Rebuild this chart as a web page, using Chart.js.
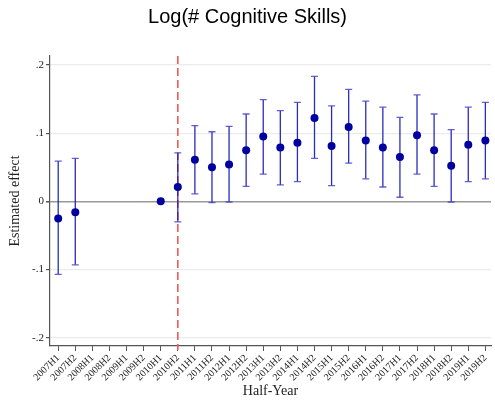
<!DOCTYPE html>
<html>
<head>
<meta charset="utf-8">
<script src="https://cdn.jsdelivr.net/npm/chart.js@4.4.0/dist/chart.umd.min.js"></script>
<style>
  html, body { margin: 0; padding: 0; background: #fff; }
  #wrap { width: 495px; height: 400px; }
</style>
</head>
<body>
<div id="wrap"><canvas id="chart"></canvas></div>
<script>
const periods = [
  "2007H1", "2007H2", "2008H1", "2008H2", "2009H1", "2009H2", "2010H1", "2010H2",
  "2011H1", "2011H2", "2012H1", "2012H2", "2013H1", "2013H2", "2014H1", "2014H2",
  "2015H1", "2015H2", "2016H1", "2016H2", "2017H1", "2017H2", "2018H1", "2018H2",
  "2019H1", "2019H2"
];
const estimates = [-0.025, -0.016, null, null, null, null, 0, 0.021, 0.061, 0.050, 0.054, 0.075, 0.095,
  0.079, 0.086, 0.122, 0.081, 0.109, 0.089, 0.079, 0.065, 0.097, 0.075, 0.052, 0.083, 0.089];
const ciLow = [-0.107, -0.093, null, null, null, null, null, -0.030, 0.011, -0.002, -0.001, 0.022, 0.040,
  0.024, 0.029, 0.063, 0.023, 0.056, 0.033, 0.021, 0.006, 0.040, 0.022, -0.001, 0.029, 0.033];
const ciHigh = [0.059, 0.063, null, null, null, null, null, 0.071, 0.111, 0.102, 0.110, 0.128, 0.149,
  0.133, 0.145, 0.183, 0.140, 0.164, 0.147, 0.138, 0.123, 0.156, 0.128, 0.105, 0.138, 0.145];
const yTicks = [-0.2, -0.1, 0, 0.1, 0.2];
const eventPeriod = "2010H2";

const serif = "'Liberation Serif', 'DejaVu Serif', serif";

// vertical event line + confidence intervals, drawn through the chart scales
const errorBars = {
  id: "errorBars",
  beforeDatasetsDraw(chart) {
    const { ctx, chartArea, scales: { x, y } } = chart;
    ctx.save();
    const ex = x.getPixelForValue(periods.indexOf(eventPeriod));
    ctx.strokeStyle = "#f25a5a";
    ctx.lineWidth = 1.6;
    ctx.setLineDash([8, 4]);
    ctx.beginPath();
    ctx.moveTo(ex, chartArea.top);
    ctx.lineTo(ex, chartArea.bottom + 4);
    ctx.stroke();
    ctx.setLineDash([]);

    periods.forEach((p, i) => {
      if (ciLow[i] == null || ciHigh[i] == null) return;
      const px = x.getPixelForValue(i);
      const top = y.getPixelForValue(ciHigh[i]);
      const bot = y.getPixelForValue(ciLow[i]);
      ctx.strokeStyle = "rgba(20,20,180,0.9)";
      ctx.lineWidth = 1.3;
      ctx.beginPath();
      ctx.moveTo(px, top);
      ctx.lineTo(px, bot);
      ctx.stroke();
      ctx.strokeStyle = "rgba(70,70,200,0.85)";
      ctx.beginPath();
      ctx.moveTo(px - 3.5, top);
      ctx.lineTo(px + 3.5, top);
      ctx.moveTo(px - 3.5, bot);
      ctx.lineTo(px + 3.5, bot);
      ctx.stroke();
    });
    ctx.restore();
  }
};

const points = [];
estimates.forEach((v, i) => { if (v != null) points.push({ x: i, y: v }); });

new Chart(document.getElementById("chart"), {
  type: "scatter",
  data: {
    datasets: [{
      data: points,
      pointRadius: 4,
      pointHoverRadius: 4,
      backgroundColor: "#0000a0",
      borderWidth: 0
    }]
  },
  options: {
    responsive: true,
    maintainAspectRatio: false,
    animation: false,
    layout: { padding: 0 },
    plugins: {
      legend: { display: false },
      tooltip: { enabled: false },
      title: {
        display: true,
        text: "Log(# Cognitive Skills)",
        color: "#000",
        font: { family: "'Liberation Sans', Arial, sans-serif", size: 20, weight: "normal" },
        padding: { top: 5, bottom: 27 }
      }
    },
    scales: {
      x: {
        type: "linear",
        min: -0.48,
        max: 25.33,
        afterBuildTicks: (scale) => { scale.ticks = periods.map((p, i) => ({ value: i })); },
        afterFit: (scale) => { scale.height = 54; },
        grid: { drawOnChartArea: false, drawTicks: true, tickLength: 5, tickColor: "#555" },
        border: { display: true, color: "#555", width: 1.2 },
        ticks: {
          autoSkip: false,
          minRotation: 45,
          maxRotation: 45,
          padding: 1,
          color: "#222",
          font: { family: serif, size: 10 },
          callback: (v) => periods[v]
        },
        title: {
          display: true,
          text: "Half-Year",
          color: "#222",
          font: { family: serif, size: 14 },
          padding: { top: 0, bottom: 0 }
        }
      },
      y: {
        min: -0.212,
        max: 0.213,
        afterBuildTicks: (scale) => { scale.ticks = yTicks.map((v) => ({ value: v })); },
        afterFit: (scale) => { scale.width = 50; },
        grid: {
          color: (c) => (c.tick && c.tick.value === 0 ? "#999" : "#ebebeb"),
          lineWidth: (c) => (c.tick && c.tick.value === 0 ? 1.5 : 1.2),
          drawTicks: true,
          tickLength: 4,
          tickColor: "#555"
        },
        border: { display: true, color: "#555", width: 1.2 },
        ticks: {
          padding: 2,
          color: "#222",
          font: { family: serif, size: 11 },
          callback: (v) => (v === 0 ? "0" : v.toFixed(1).replace("0.", "."))
        },
        title: {
          display: true,
          text: "Estimated effect",
          color: "#222",
          font: { family: serif, size: 14 },
          padding: { top: 7, bottom: 0 }
        }
      }
    }
  },
  plugins: [errorBars]
});
</script>
</body>
</html>
